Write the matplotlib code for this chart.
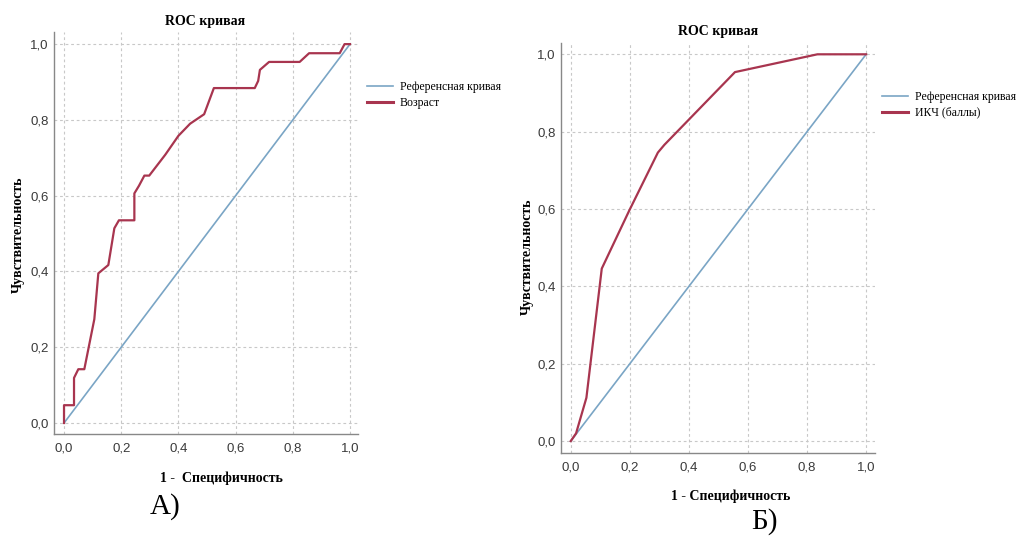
import numpy as np
import matplotlib
matplotlib.use('Agg')
import matplotlib.pyplot as plt
from matplotlib.lines import Line2D

# ROC данные
fpr_age = [0, 0, 0.035, 0.035, 0.05, 0.071, 0.106, 0.120, 0.155, 0.176, 0.192, 0.246, 0.246, 0.262,
           0.281, 0.298, 0.354, 0.40, 0.441, 0.49, 0.524, 0.667, 0.679, 0.685, 0.717, 0.824, 0.857,
           0.964, 0.981, 1.0]
tpr_age = [0, 0.047, 0.047, 0.119, 0.142, 0.142, 0.274, 0.395, 0.417, 0.514, 0.535, 0.535, 0.606, 0.626,
           0.653, 0.653, 0.708, 0.758, 0.79, 0.815, 0.884, 0.884, 0.903, 0.932, 0.953, 0.953, 0.976,
           0.976, 1.0, 1.0]

fpr_ikch = [0, 0.018, 0.053, 0.105, 0.198, 0.295, 0.317, 0.556, 0.835, 1.0]
tpr_ikch = [0, 0.02, 0.112, 0.446, 0.596, 0.746, 0.766, 0.954, 1.0, 1.0]

ref_line = [0, 1]
ticks = [0, 0.2, 0.4, 0.6, 0.8, 1.0]
tick_labels = ['0,0', '0,2', '0,4', '0,6', '0,8', '1,0']

W, H = 1027, 541
fig = plt.figure(figsize=(W / 100, H / 100), dpi=100)
fig.patch.set_facecolor('white')

SERIF = 'Liberation Serif'
SANS = 'Liberation Sans'
c_ref = '#7aa5c5'
c_roc = '#a8354f'


def px(x, y):
    return x / W, 1 - y / H


def setup(ax, xlim, ylim):
    ax.set_xlim(*xlim); ax.set_ylim(*ylim)
    ax.set_xticks(ticks); ax.set_yticks(ticks)
    ax.set_xticklabels(tick_labels, fontfamily=SANS, fontsize=9.5, color='#3a3a3a')
    ax.set_yticklabels(tick_labels, fontfamily=SANS, fontsize=9.5, color='#3a3a3a')
    ax.tick_params(axis='both', length=0)
    ax.tick_params(axis='x', pad=6)
    ax.tick_params(axis='y', pad=4)
    ax.grid(True, color='#c8c8c8', linestyle=(0, (2.5, 2.5)), linewidth=0.8)
    ax.set_axisbelow(True)
    for s in ['top', 'right']:
        ax.spines[s].set_visible(False)
    for s in ['left', 'bottom']:
        ax.spines[s].set_color('#888888')
        ax.spines[s].set_linewidth(1.0)


# А) Возраст
ax1 = fig.add_axes([54 / W, 1 - 434 / H, (358 - 54) / W, (434 - 32) / H])
ax1.plot(ref_line, ref_line, color=c_ref, lw=1.2)
ax1.plot(fpr_age, tpr_age, color=c_roc, lw=1.6)
setup(ax1, (-0.035, 1.028), (-0.029, 1.032))

# Б) ИКЧ
ax2 = fig.add_axes([561 / W, 1 - 452.7 / H, (875 - 561) / W, (452.7 - 42.7) / H])
ax2.plot(ref_line, ref_line, color=c_ref, lw=1.2)
ax2.plot(fpr_ikch, tpr_ikch, color=c_roc, lw=1.6)
setup(ax2, (-0.033, 1.030), (-0.030, 1.030))

# подписи
fig.text(*px(205, 21), 'ROC кривая', ha='center', va='center', fontfamily=SERIF, fontweight='bold', fontsize=10)
fig.text(*px(718, 32), 'ROC кривая', ha='center', va='center', fontfamily=SERIF, fontweight='bold', fontsize=10)
fig.text(*px(18, 235), 'Чувствительность', rotation=90, ha='center', va='center', fontfamily=SERIF, fontweight='bold', fontsize=10)
fig.text(*px(527, 257), 'Чувствительность', rotation=90, ha='center', va='center', fontfamily=SERIF, fontweight='bold', fontsize=10)
fig.text(*px(221, 478), '1 -  Специфичность', ha='center', va='center', fontfamily=SERIF, fontweight='bold', fontsize=10)
fig.text(*px(731, 496), '1 - Специфичность', ha='center', va='center', fontfamily=SERIF, fontweight='bold', fontsize=10)
fig.text(*px(165, 507), 'А)', ha='center', va='center', fontfamily=SERIF, fontsize=21)
fig.text(*px(764, 522), 'Б)', ha='center', va='center', fontfamily=SERIF, fontsize=21)

# легенды
h_ref = Line2D([], [], color=c_ref, lw=1.2)
h_roc = Line2D([], [], color=c_roc, lw=2.2)
for ax, lab, (lx, ly) in [(ax1, 'Возраст', (367, 95)), (ax2, 'ИКЧ (баллы)', (882, 105))]:
    ax.legend([h_ref, h_roc], ['Референсная кривая', lab], loc='center left',
              bbox_to_anchor=px(lx, ly), bbox_transform=fig.transFigure, frameon=False,
              prop={'family': SERIF, 'size': 8.5}, handlelength=2.2, handletextpad=0.6,
              labelspacing=0.3, borderpad=0, borderaxespad=0)

fig.savefig('out.png', dpi=100, facecolor='white')
